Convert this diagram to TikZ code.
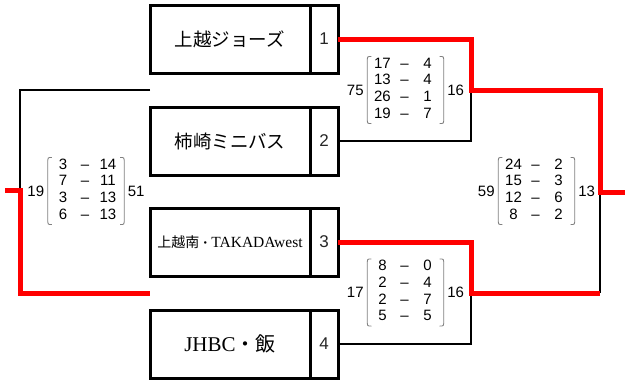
\documentclass[tikz,border=0pt]{standalone}
\usepackage{fontspec}
\usepackage{array}
\setmainfont{Liberation Sans}
\newfontfamily\cjk{Noto Sans CJK JP}
\newfontfamily\lser{Liberation Serif}
\usetikzlibrary{calc}
\tikzset{
  namebox/.style={draw, line width=3pt, minimum width=160pt, minimum height=68pt, inner sep=0pt, outer sep=0pt},
  numbox/.style={draw, line width=3pt, minimum width=28pt, minimum height=68pt, inner sep=0pt, outer sep=0pt, font=\fontsize{17}{17}\selectfont, text=black!85},
  win/.style={draw=red, line width=5pt},
  lose/.style={draw=black, line width=2.8pt},
  score/.style={inner xsep=5pt, inner ysep=0pt, font=\fontsize{15}{16.7}\selectfont},
  brk/.style={draw=gray, line width=0.8pt},
  tot/.style={font=\fontsize{15}{15}\selectfont, inner xsep=3.5pt, inner ysep=1pt}
}
\newcommand\jp[2]{{\cjk\fontsize{#1}{#1}\selectfont #2}}
\newcommand\lt[2]{{\lser\fontsize{#1}{#1}\selectfont #2}}
\begin{document}
\begin{tikzpicture}[x=1pt,y=-1pt]
\useasboundingbox (0,0) rectangle (625,380);
\fill[white] (0,0) rectangle (625,380);

% team boxes
\node[namebox] (t1) at (230,39) {\jp{18.5}{上越ジョーズ}};
\node[numbox]  (n1) at (324,39) {1};
\node[namebox] (t2) at (230,141) {\jp{18.5}{柿崎ミニバス}};
\node[numbox]  (n2) at (324,141) {2};
\node[namebox] (t3) at (230,242) {\jp{14}{上越南}\jp{12}{・}\lt{15.5}{TAKADAwest}};
\node[numbox]  (n3) at (324,242) {3};
\node[namebox] (t4) at (230,344) {\lt{21}{JHBC}\jp{20}{・飯}};
\node[numbox]  (n4) at (324,344) {4};

% junctions
\coordinate (a12) at (471,90);
\coordinate (a34) at (471,293);
\coordinate (fin) at (600,192);
\coordinate (fend) at (625,192);
\coordinate (l12) at (150,90);
\coordinate (l34) at (150,293);
\coordinate (lf) at (20,190);
\coordinate (lend) at (5,190);

% losing lines
\draw[lose] (n2.east) -| (a12);
\draw[lose] (n4.east) -| (a34);
\draw[lose] (a34 -| fin) -- (fin);
\draw[lose] (l12) -| (lf);

% winning lines
\draw[win] (n1.east) -| (a12) -| (fin) -- (fend);
\draw[win] (n3.east) -| (a34) -- (a34 -| fin);
\draw[win] (lend) -- (lf) |- (l34);

% scores
\node[score] (s0) at (86,191) {\begin{tabular}{@{}wc{20pt}@{}wc{24pt}@{}wc{22pt}@{}}3&–&14\\7&–&11\\3&–&13\\6&–&13\end{tabular}};
\node[score] (s12) at (405.5,90) {\begin{tabular}{@{}wc{20pt}@{}wc{24pt}@{}wc{22pt}@{}}17&–&4\\13&–&4\\26&–&1\\19&–&7\end{tabular}};
\node[score] (s34) at (405.5,292.5) {\begin{tabular}{@{}wc{20pt}@{}wc{24pt}@{}wc{22pt}@{}}8&–&0\\2&–&4\\2&–&7\\5&–&5\end{tabular}};
\node[score] (sf) at (536.5,191) {\begin{tabular}{@{}wc{20pt}@{}wc{24pt}@{}wc{22pt}@{}}24&–&2\\15&–&3\\12&–&6\\8&–&2\end{tabular}};

\foreach \s in {s0,s12,s34,sf} {
  \draw[brk] ($(\s.north west)+(4,0)$) .. controls (\s.north west) .. ($(\s.north west)+(0,5)$) -- ($(\s.south west)+(0,-5)$) .. controls (\s.south west) .. ($(\s.south west)+(4,0)$);
  \draw[brk] ($(\s.north east)+(-4,0)$) .. controls (\s.north east) .. ($(\s.north east)+(0,5)$) -- ($(\s.south east)+(0,-5)$) .. controls (\s.south east) .. ($(\s.south east)+(-4,0)$);
}

% totals
\node[tot, anchor=east] (s0l) at (s0.west) {19};
\node[tot, anchor=west] (s0r) at (s0.east) {51};
\node[tot, anchor=east] (s12l) at (s12.west) {75};
\node[tot, anchor=west] (s12r) at (s12.east) {16};
\node[tot, anchor=east] (s34l) at (s34.west) {17};
\node[tot, anchor=west] (s34r) at (s34.east) {16};
\node[tot, anchor=east] (sfl) at (sf.west) {59};
\node[tot, anchor=west] (sfr) at (sf.east) {13};
\end{tikzpicture}
\end{document}
